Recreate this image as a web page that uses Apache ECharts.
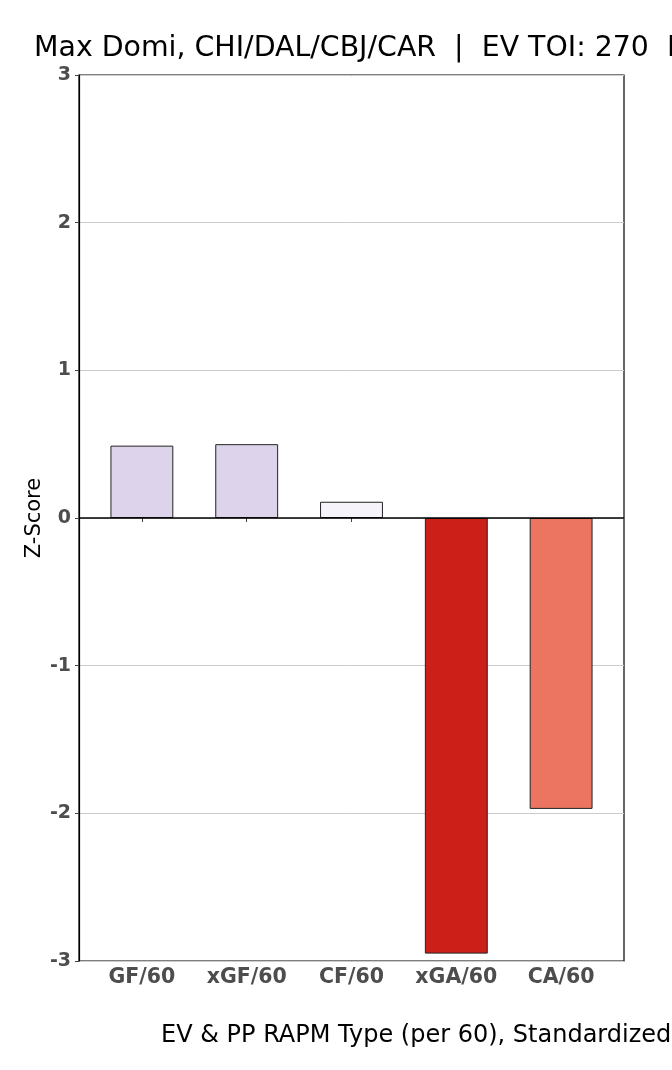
<!DOCTYPE html>
<html><head><meta charset="utf-8">
<script src="https://cdn.jsdelivr.net/npm/echarts@6/dist/echarts.min.js"></script>
<style>html,body{margin:0;padding:0;background:#fff}#c{width:672px;height:1070px}</style>
</head><body><div id="c"></div>
<script>
const categories = ['GF/60', 'xGF/60', 'CF/60', 'xGA/60', 'CA/60'];
const values = [0.49, 0.50, 0.11, -2.95, -1.97];
const barColors = ['#ddd3ea', '#ddd3ea', '#f6f4fa', '#cb1f18', '#eb7560'];
const yTicks = [-3, -2, -1, 0, 1, 2, 3];
const titleText = 'Max Domi, CHI/DAL/CBJ/CAR  |  EV TOI: 270  PP TOI: 45';
const xName = 'EV & PP RAPM Type (per 60), Standardized';
const yName = 'Z-Score';

const chart = echarts.init(document.getElementById('c'), null, {renderer: 'canvas'});
const font = 'DejaVu Sans';
const L = 79, R = 48, T = 75, B = 109;
const inset = (672 - L - R) / 5.2 * 0.1;
chart.setOption({
  animation: false,
  backgroundColor: '#fff',
  grid: [
    {left: L, right: R, top: T, bottom: B, show: true, borderColor: '#000', borderWidth: 1.2, backgroundColor: 'transparent'},
    {left: L + inset, right: R + inset, top: T, bottom: B}
  ],
  xAxis: [
    {gridIndex: 0, type: 'category', data: categories, show: false},
    {gridIndex: 1, type: 'category', data: categories,
      axisLine: {show: false},
      axisTick: {show: true, interval: 0, alignWithLabel: true, length: 4, lineStyle: {color: '#444'}},
      axisLabel: {interval: 0, hideOverlap: false, fontFamily: font, fontWeight: 'bold', fontSize: 20.5, color: '#4d4d4d', margin: 6},
      splitLine: {show: false}}
  ],
  yAxis: [
    {gridIndex: 0, type: 'value', min: -3, max: 3, interval: 1,
      axisLine: {show: true, lineStyle: {color: '#000', width: 1.2}},
      axisTick: {show: true, length: 4, lineStyle: {color: '#444'}},
      axisLabel: {fontFamily: font, fontWeight: 'bold', fontSize: 19, color: '#4d4d4d', margin: 8,
        formatter: v => yTicks.includes(v) ? String(v) : ''},
      splitLine: {show: true, lineStyle: {color: '#cccccc', width: 1}}},
    {gridIndex: 1, type: 'value', min: -3, max: 3, interval: 1, show: false, splitLine: {show: false}}
  ],
  series: [{
    type: 'bar', xAxisIndex: 1, yAxisIndex: 1, barWidth: '60%',
    data: values.map((v, i) => ({value: v, itemStyle: {color: barColors[i]}})),
    itemStyle: {borderColor: '#222', borderWidth: 1}
  }, {
    type: 'line', xAxisIndex: 0, yAxisIndex: 0, data: [],
    markLine: {silent: true, symbol: 'none', label: {show: false},
      lineStyle: {color: '#000', type: 'solid', width: 1.5}, data: [{yAxis: 0}]}
  }],
  graphic: [
    {type: 'text', x: 34, y: 49, style: {text: titleText, font: '28.4px "DejaVu Sans"', fill: '#000', verticalAlign: 'middle'}},
    {type: 'text', x: 161, y: 1036, style: {text: xName, font: '24px "DejaVu Sans"', fill: '#000', verticalAlign: 'middle'}},
    {type: 'text', x: 35, y: 518, rotation: Math.PI / 2, style: {text: yName, font: '21px "DejaVu Sans"', fill: '#000', align: 'center', verticalAlign: 'middle'}}
  ]
});
</script></body></html>
